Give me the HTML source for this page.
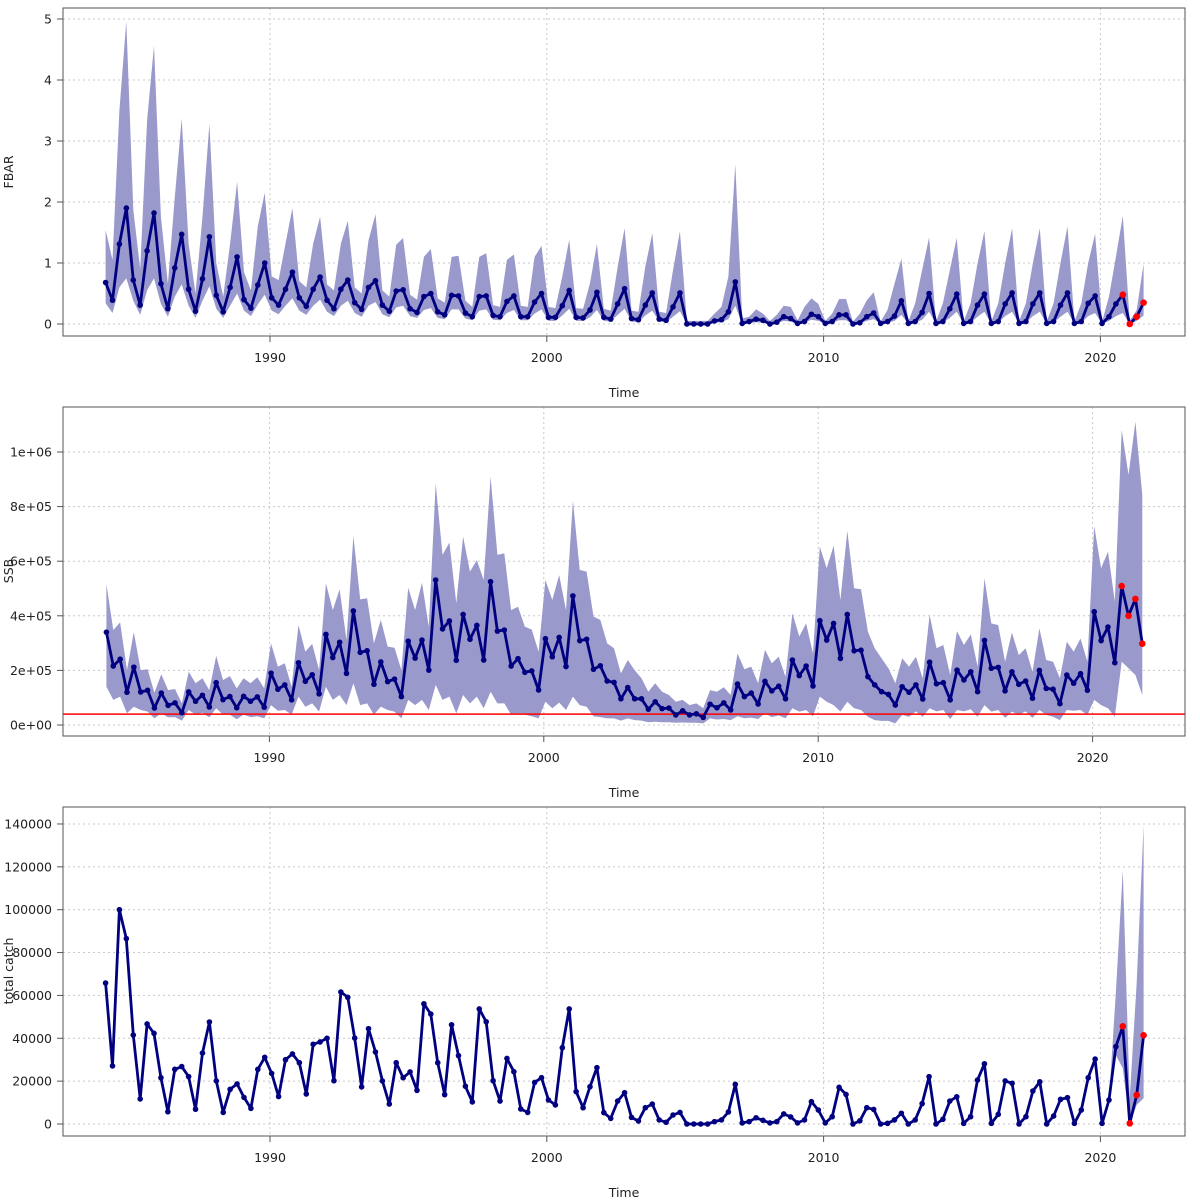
<!DOCTYPE html>
<html><head><meta charset="utf-8"><title>FBAR, SSB and total catch</title>
<style>
html,body{margin:0;padding:0;background:#fff;}
svg{display:block;font-family:"DejaVu Sans","Liberation Sans",sans-serif;}
</style></head>
<body>
<svg id="chart" width="1200" height="1200" viewBox="0 0 1200 1200" xmlns="http://www.w3.org/2000/svg"></svg>
<script>
// ---------- data ----------
const fbarValues = [.68,.39,1.31,1.90, .72,.31,1.20,1.82, .66,.25,.92,1.47, .57,.21,.74,1.43, .47,.20,.60,1.10, .40,.26,.64,1.00,
 .43,.31,.57,.85, .43,.29,.57,.77, .39,.25,.57,.72, .35,.24,.60,.71, .31,.21,.54,.56, .25,.19,.45,.50, .20,.15,.47,.46,
 .18,.12,.45,.46, .14,.12,.37,.46, .12,.12,.36,.50, .11,.11,.30,.55, .11,.10,.23,.52, .11,.08,.33,.58, .09,.07,.31,.51,
 .08,.06,.28,.51, 0,0,0,0, .05,.07,.20,.69, .01,.04,.08,.06, 0,.03,.12,.09, .01,.04,.16,.12, .01,.04,.15,.15,
 0,.02,.12,.18, .01,.04,.13,.38, .01,.04,.19,.50, .01,.04,.25,.49, .01,.04,.31,.49, .01,.04,.33,.51, .01,.04,.33,.51,
 .01,.04,.31,.51, .01,.04,.34,.46, .01,.12,.33,.48, 0,.12,.35];
const fbarUpper = [1.54,1.05,3.5,4.96, 1.87,.9,3.34,4.56, 1.76,.66,2.08,3.37, 1.32,.5,1.76,3.28, 1.0,.45,1.32,2.33, .85,.55,1.6,2.15,
 .78,.72,1.32,1.9, .7,.6,1.32,1.76, .65,.55,1.32,1.69, .6,.5,1.37,1.8, .55,.45,1.3,1.41, .48,.4,1.1,1.23, .42,.35,1.1,1.12,
 .38,.28,1.1,1.16, .31,.28,1.05,1.14, .3,.28,1.1,1.28, .28,.26,.78,1.38, .26,.25,.67,1.31, .25,.22,.94,1.57, .22,.2,.94,1.49,
 .2,.18,.88,1.52, .05,.05,.05,.05, .17,.28,.78,2.62, .09,.12,.24,.17, .05,.15,.3,.28, .06,.28,.42,.33, .05,.17,.41,.41,
 .04,.17,.39,.52, .04,.23,.66,1.07, .04,.34,.88,1.42, .04,.34,.88,1.41, .04,.34,.99,1.52, .04,.34,1.0,1.57, .04,.34,1.0,1.57,
 .04,.34,1.0,1.6, .04,.34,1.0,1.48, .04,.45,1.1,1.77, .05,.23,.99];
const fbarLower = [.34,.18,.6,.75, .38,.15,.55,.75, .33,.12,.45,.65, .3,.1,.38,.62, .25,.1,.3,.5, .22,.13,.32,.48,
 .22,.16,.3,.42, .22,.15,.3,.4, .2,.13,.3,.38, .18,.12,.3,.36, .16,.11,.27,.3, .13,.1,.23,.26, .1,.08,.24,.24,
 .09,.06,.22,.24, .07,.06,.18,.23, .06,.06,.17,.24, .05,.05,.14,.25, .05,.05,.11,.23, .05,.04,.15,.25, .04,.03,.14,.22,
 .04,.03,.12,.21, 0,0,0,0, .02,.03,.08,.3, 0,.01,.03,.02, 0,.01,.05,.04, 0,.02,.07,.05, 0,.02,.06,.06,
 0,.01,.05,.08, 0,.02,.05,.15, 0,.02,.07,.2, 0,.02,.1,.2, 0,.02,.12,.2, 0,.02,.13,.2, 0,.02,.13,.2,
 0,.02,.12,.2, 0,.02,.13,.18, 0,.05,.13,.18, 0,.05,.14];

const ssbValues = [340,216,241,120,212,121,127,62,117,72,81,45,121,87,109,66,155,93,104,63,105,87,103,65,190,131,147,92,228,160,184,114,332,247,303,189,418,266,272,149,231,159,168,104,307,245,311,201,531,352,381,237,405,314,365,
 238,525,344,348,216,243,193,198,128,316,250,321,214,473,309,314,204,217,161,156,96,137,96,96,58,85,60,62,37,52,37,41,28,76,63,81,55,150,104,117,77,160,125,142,96,238,181,216,143,382,311,
 372,244,405,272,274,177,147,122,112,73,140,120,147,95,230,151,155,92,201,165,195,122,310,208,211,125,195,149,161,98,200,134,131,78,183,153,188,127,415,309,359,228,509,400,462,298];
const ssbUpper = [516,348,376,201,340,201,204,118,186,128,132,79,195,153,171,128,253,165,179,134,171,153,175,134,299,214,226,140,366,269,297,201,519,421,497,311,692,460,464,299,385,287,283,201,503,421,521,360,885,623,668,446,690,562,604,
 531,910,623,629,421,433,360,350,268,531,458,549,421,822,568,562,397,385,299,281,189,238,201,171,122,153,122,110,85,92,73,79,61,128,122,138,110,262,204,214,153,275,226,250,177,409,324,372,262,653,574,
 656,458,711,501,497,342,281,244,208,153,244,214,250,171,403,281,293,183,344,293,332,214,537,372,366,232,339,256,281,195,354,238,232,171,305,269,317,232,729,574,635,452,1081,916,1111,842];
const ssbLower = [140,92,104,43,67,55,49,24,43,28,29,16,55,38,45,28,61,38,38,21,38,29,32,24,73,52,55,38,104,67,79,49,140,92,110,73,153,73,79,38,67,55,49,24,92,73,92,55,147,92,104,43,110,79,104,
 61,122,79,79,38,43,38,32,24,85,61,82,55,104,73,67,32,29,24,24,16,24,18,16,10,12,10,10,8,9,8,8,6,24,20,22,18,32,25,27,22,43,29,35,24,61,49,55,32,104,85,
 73,49,85,61,55,30,18,15,15,6,37,30,50,30,61,50,55,22,55,50,58,30,73,49,55,26,49,37,50,26,55,37,30,18,55,52,55,37,92,73,61,30,232,208,183,110];
const ssbReference = 40; // thousand tonnes, red line

const catchValues = [65.8,27.1,100,86.5,41.5,11.7,46.7,42.3,21.6,5.7,25.5,26.8,22.1,6.9,33.1,47.6,20.1,5.4,16.2,18.7,12.4,7.3,25.5,31.1,23.6,12.8,30,32.7,28.6,14,37.2,38.3,40,20.2,61.6,59.1,40.1,17.3,44.5,33.6,20.1,9.3,28.6,21.6,24.3,15.7,56.1,51.3,28.6,13.7,46.3,31.9,17.6,10.3,
 53.7,47.7,20.2,10.7,30.6,24.4,7,5.4,19.4,21.6,11.2,8.9,35.6,53.7,15.1,7.6,17.4,26.3,5.3,2.6,10.7,14.6,3.1,1.4,7.6,9.3,1.9,0.8,4.2,5.4,0,0,0,0,1.1,1.9,5.6,18.5,0.5,1.1,2.9,1.7,0.5,1.1,4.7,3.3,0.5,1.9,10.4,6.5,
 0.5,3.4,17.1,13.8,0,1.5,7.6,6.8,0,0.3,1.9,5,0,1.9,9.5,22.1,0,2.2,10.7,12.7,0.3,3.4,20.5,28.1,0.3,4.5,20.1,19,0,3.4,15.4,19.7,0,3.7,11.5,12.3,0.3,6.5,21.6,30.3,0.3,11.2,36.1,45.6,0.3,13.5,41.4];
const catchBandStart = 145;
const catchUpperTail = [11.2,61.7,118.5,12,66,139.5];
const catchLowerTail = [11.2,32,26,0,8.9,12];

const yearTicks = [1990,2000,2010,2020];
const fbarTicks = [0,1,2,3,4,5];
const ssbTicks = [0,200,400,600,800,1000];
const ssbTickLabels = ["0e+00","2e+05","4e+05","6e+05","8e+05","1e+06"];
const catchTicks = [0,20,40,60,80,100,120,140];
const catchTickLabels = ["0","20000","40000","60000","80000","100000","120000","140000"];
const forecastCount = 4;

// ---------- helpers ----------
const NS = "http://www.w3.org/2000/svg";
const svg = document.getElementById("chart");
function mk(tag, attrs, parent){ const e=document.createElementNS(NS,tag); for(const k in attrs) e.setAttribute(k,attrs[k]); (parent||svg).appendChild(e); return e; }
function timeOf(i){ return 1984.06 + i/4; }

function drawPanel(cfg){
  const g = mk("g",{});
  
  
  const L=63,R=1185,T=cfg.top,B=cfg.bottom;
  const xs = t => cfg.x1990 + (t-1990)*cfg.xper;
  const ys = v => cfg.y0 - v*cfg.yper;
  // grid
  const grid = mk("g",{},g);
  
  
  yearTicks.forEach(yr=>{ mk("line",{x1:xs(yr),x2:xs(yr),y1:T,y2:B,stroke:"#c8c8c8","stroke-dasharray":"2,3","stroke-width":1},grid); });
  cfg.yticks.forEach(v=>{ mk("line",{x1:L,x2:R,y1:ys(v),y2:ys(v),stroke:"#c8c8c8","stroke-dasharray":"2,3","stroke-width":1},grid); });
  // band
  if(cfg.upper){
    let pts=[];
    for(let i=cfg.bandFrom;i<cfg.values.length;i++) pts.push(xs(timeOf(i)).toFixed(1)+","+ys(cfg.upper[i]).toFixed(1));
    for(let i=cfg.values.length-1;i>=cfg.bandFrom;i--) pts.push(xs(timeOf(i)).toFixed(1)+","+ys(cfg.lower[i]).toFixed(1));
    const band = mk("polygon",{points:pts.join(" "),fill:"#9999cc",stroke:"none"},g);
    
    
  }
  if(cfg.refLine!==undefined){
    const rl = mk("line",{x1:L,x2:R,y1:ys(cfg.refLine),y2:ys(cfg.refLine),stroke:"#ff0000","stroke-width":1.5},g);
    
    
  }
  // line
  const lp = cfg.values.map((v,i)=>xs(timeOf(i)).toFixed(1)+","+ys(v).toFixed(1)).join(" ");
  const line = mk("polyline",{points:lp,fill:"none",stroke:"#000080","stroke-width":2.8,"stroke-linejoin":"round"},g);
  
  
  const n = cfg.values.length;
  cfg.values.forEach((v,i)=>{
    const red = i>=n-forecastCount;
    const c = mk("circle",{cx:xs(timeOf(i)),cy:ys(v),r:red?3.3:2.8,fill:red?"#ff0000":"#000080"},g);
    
    
  });
  // box
  mk("rect",{x:L,y:T,width:R-L,height:B-T,fill:"none",stroke:"#555","stroke-width":1},g);
  // x axis
  yearTicks.forEach(yr=>{
    mk("line",{x1:xs(yr),x2:xs(yr),y1:B,y2:B+6,stroke:"#555"},g);
    const t = mk("text",{x:xs(yr),y:B+26,"text-anchor":"middle","font-size":12.5,fill:"#222"},g);
    t.textContent = yr;
    
    
  });
  const xt = mk("text",{x:624,y:B+61,"text-anchor":"middle","font-size":12.5,fill:"#222"},g);
  xt.textContent="Time";
  
  
  // y axis
  cfg.yticks.forEach((v,k)=>{
    mk("line",{x1:L-6,x2:L,y1:ys(v),y2:ys(v),stroke:"#555"},g);
    const t = mk("text",{x:L-11,y:ys(v)+4.5,"text-anchor":"end","font-size":12.5,fill:"#222"},g);
    t.textContent = cfg.ylabels[k];
    
    
  });
  const yt = mk("text",{x:0,y:0,"text-anchor":"middle","font-size":12.5,fill:"#222",transform:`translate(13,${cfg.ytitleY}) rotate(-90)`},g);
  yt.textContent = cfg.ytitle;
  
  
}

drawPanel({name:"fbar-panel",top:8,bottom:336,x1990:270,xper:27.68,y0:324,yper:61,
  values:fbarValues,upper:fbarUpper,lower:fbarLower,bandFrom:0,
  yticks:fbarTicks,ylabels:fbarTicks.map(String),ytitle:"FBAR",ytitleY:172});
drawPanel({name:"ssb-panel",top:407,bottom:736,x1990:269.4,xper:27.44,y0:725,yper:0.273,
  values:ssbValues,upper:ssbUpper,lower:ssbLower,bandFrom:0,refLine:ssbReference,
  yticks:ssbTicks,ylabels:ssbTickLabels,ytitle:"SSB",ytitleY:571});
const catchUpper = catchValues.map((v,i)=> i>=catchBandStart ? catchUpperTail[i-catchBandStart] : v);
const catchLower = catchValues.map((v,i)=> i>=catchBandStart ? catchLowerTail[i-catchBandStart] : v);
drawPanel({name:"catch-panel",top:807,bottom:1136,x1990:270,xper:27.68,y0:1124,yper:2.143,
  values:catchValues,upper:catchUpper,lower:catchLower,bandFrom:catchBandStart-1,
  yticks:catchTicks,ylabels:catchTickLabels,ytitle:"total catch",ytitleY:971});
</script>
</body></html>
